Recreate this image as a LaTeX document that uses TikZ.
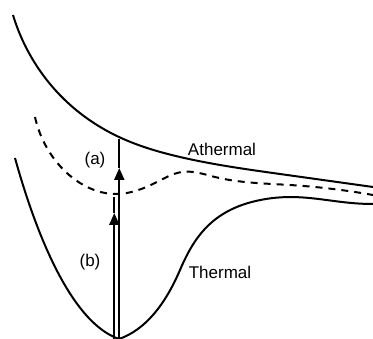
\documentclass[tikz,border=0pt]{standalone}
\usepackage{fontspec}
\setmainfont{Liberation Sans}
\usetikzlibrary{arrows.meta, hobby}

\begin{document}
\begin{tikzpicture}[x=1pt, y=-1pt, line width=2pt, font=\fontsize{17}{20}\selectfont]

  \useasboundingbox (0,0) rectangle (373,339);

  % Athermal surface
  \draw[use Hobby shortcut] (13,15) .. (33,60) .. (67,102) .. (119,137) .. (180,157) .. (280,174) .. (373,187);
  \node (athermal) at (222,149) {Athermal};

  % dashed intermediate curve
  \draw[use Hobby shortcut, dash pattern=on 7pt off 6pt] (35,117) .. (55,160) .. (80,183) .. (115,194) .. (157,182) .. (182,172) .. (215,177) .. (290,185) .. (373,195);

  % Thermal well
  \draw (15,158) .. controls (35,230) and (70,322) .. (119,339)
    .. controls (145,330) and (165,305) .. (180,270)
    .. controls (195,235) and (215,205) .. (273,198)
    .. controls (310,194) and (335,204) .. (373,204);
  \node (thermal) at (220,272) {Thermal};

  % excitation paths
  \coordinate (a-bot) at (119.3,339);
  \coordinate (a-tip) at (119.3,168);
  \coordinate (a-top) at (119.3,139);
  \coordinate (b-bot) at (114.3,339);
  \coordinate (b-tip) at (114.3,213);
  \coordinate (b-top) at (114.3,197);

  \draw[-{Triangle[length=12pt, width=10pt]}] (a-bot) -- (a-tip);
  \draw (a-tip) -- (a-top);
  \draw[-{Triangle[length=12pt, width=10pt]}] (b-bot) -- (b-tip);
  \draw (b-tip) -- (b-top);

  \node (lab-a) at (95,160) {(a)};
  \node (lab-b) at (90,262) {(b)};

\end{tikzpicture}
\end{document}
